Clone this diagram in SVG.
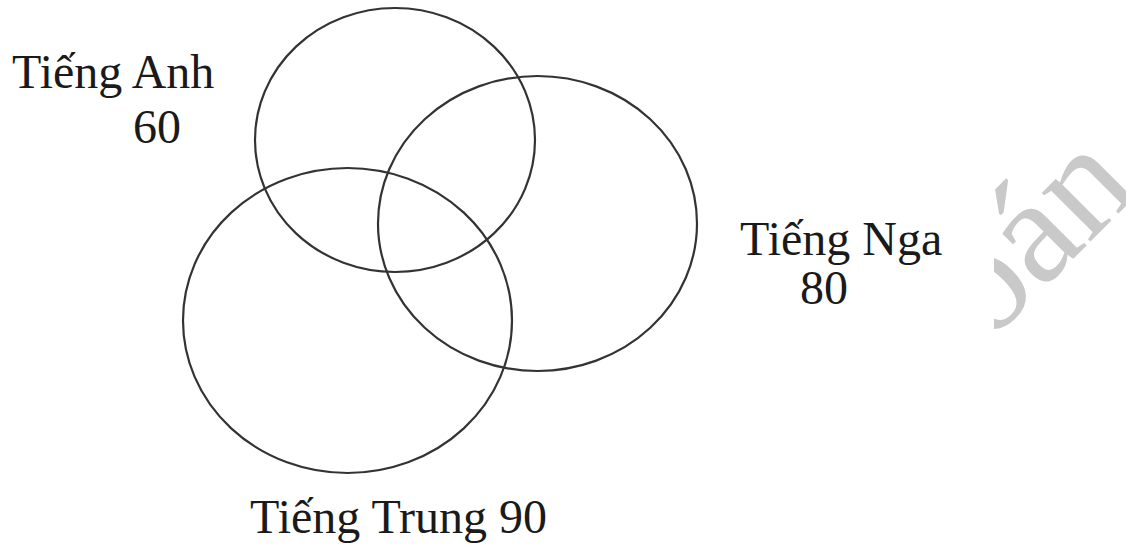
<svg xmlns="http://www.w3.org/2000/svg" width="1126" height="546" viewBox="0 0 1126 546">
<style>
.set{fill:none;stroke:#333;stroke-width:2.2}
.lbl{font-family:"Liberation Serif","Times New Roman",serif;font-size:48px;fill:#1a1a1a}
.wm{font-family:"Liberation Serif","Times New Roman",serif;font-size:150px;fill:#c9c9c9}
</style>
<defs>
<clipPath id="wmclip"><rect x="994" y="0" width="132" height="546"/></clipPath>
</defs>
<rect width="1126" height="546" fill="#fff"/>
<g id="watermark" clip-path="url(#wmclip)">
<text class="wm" transform="translate(988,344) rotate(-45)">oán</text>
</g>
<g id="set-anh">
<ellipse class="set" cx="395" cy="140" rx="140" ry="132"/>
<text class="lbl" x="12" y="88">Tiếng Anh</text>
<text class="lbl" x="133" y="143">60</text>
</g>
<g id="set-nga">
<ellipse class="set" cx="537.5" cy="223.5" rx="159.5" ry="147.5"/>
<text class="lbl" x="740" y="255">Tiếng Nga</text>
<text class="lbl" x="800" y="304">80</text>
</g>
<g id="set-trung">
<ellipse class="set" cx="347.5" cy="320.5" rx="164.5" ry="152.5"/>
<text class="lbl" x="250" y="533">Tiếng Trung 90</text>
</g>
<g id="connectors"></g>
</svg>
